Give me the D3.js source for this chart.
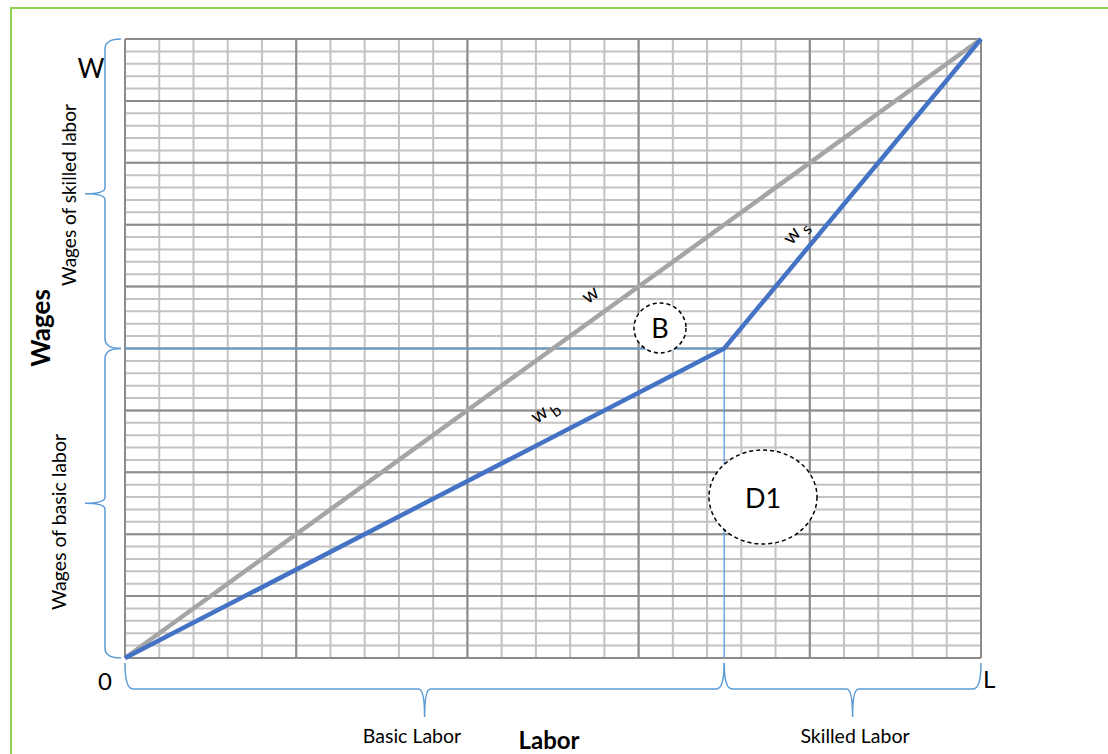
<!DOCTYPE html>
<html lang="en">
<head>
    <meta charset="UTF-8">
    <script src="https://d3js.org/d3.v7.min.js"></script>
    <title>Wages vs Labor</title>
    <style>
      body { margin: 0; background: #fff; }
      text { font-family: Lato, "Open Sans", sans-serif; fill: #000; }
    </style>
</head>
<body>
    <script>
    // data (share of total labor / total wages, in %)
    var laborShares = [0, 70, 100];     // 0, end of basic labor, L
    var wageShares = [0, 50, 100];      // 0, basic wages, W
    var totalLabor = [0, 100];
    var totalWage = [0, 100];
    var xMinorTicks = d3.range(0, 101, 4);
    var xMajorTicks = d3.range(0, 101, 20);
    var yMinorTicks = d3.range(0, 101, 2);
    var yMajorTicks = d3.range(0, 101, 10);

    var width = 1108, height = 754;
    var svg = d3.select("body").append("svg")
        .attr("width", width)
        .attr("height", height);

    // green frame (only top and left visible)
    svg.append("rect")
        .attr("x", 11).attr("y", 8)
        .attr("width", 1300).attr("height", 900)
        .attr("fill", "none")
        .attr("stroke", "#92d050")
        .attr("stroke-width", 2);

    var x = d3.scaleLinear().domain([0, 100]).range([125, 981]);
    var y = d3.scaleLinear().domain([0, 100]).range([658, 39]);

    // grid
    var grid = svg.append("g");
    grid.selectAll(".vmin").data(xMinorTicks).enter().append("line")
        .attr("x1", d => x(d)).attr("x2", d => x(d))
        .attr("y1", y(0)).attr("y2", y(100))
        .attr("stroke", "#c3c3c3").attr("stroke-width", 2);
    grid.selectAll(".hmin").data(yMinorTicks).enter().append("line")
        .attr("y1", d => y(d)).attr("y2", d => y(d))
        .attr("x1", x(0)).attr("x2", x(100))
        .attr("stroke", "#c3c3c3").attr("stroke-width", 2);
    grid.selectAll(".vmaj").data(xMajorTicks).enter().append("line")
        .attr("x1", d => x(d)).attr("x2", d => x(d))
        .attr("y1", y(0)).attr("y2", y(100))
        .attr("stroke", "#8c8c8c").attr("stroke-width", 2);
    grid.selectAll(".hmaj").data(yMajorTicks).enter().append("line")
        .attr("y1", d => y(d)).attr("y2", d => y(d))
        .attr("x1", x(0)).attr("x2", x(100))
        .attr("stroke", "#8c8c8c").attr("stroke-width", 2);

    // blue guide lines at the kink
    svg.append("path")
        .attr("d", d3.line()([[x(0), y(wageShares[1])], [x(laborShares[1]), y(wageShares[1])], [x(laborShares[1]), y(0)]]))
        .attr("fill", "none").attr("stroke", "#5b9bd5").attr("stroke-width", 1.3);

    var line = d3.line().x(d => x(d[0])).y(d => y(d[1]));

    // total wage line
    svg.append("path")
        .attr("d", line(totalLabor.map((v, i) => [v, totalWage[i]])))
        .attr("fill", "none").attr("stroke", "#a5a5a5").attr("stroke-width", 4.5);

    // wb / ws line
    svg.append("path")
        .attr("d", line(laborShares.map((v, i) => [v, wageShares[i]])))
        .attr("fill", "none").attr("stroke", "#4472c4").attr("stroke-width", 4.5)
        .attr("stroke-linejoin", "miter");

    // braces
    function vBrace(xb, y1, y2) {
        var ym = (y1 + y2) / 2;
        return "M" + (xb + 16) + "," + y1 +
            " Q" + xb + "," + y1 + " " + xb + "," + (y1 + 10) +
            " L" + xb + "," + (ym - 6) +
            " Q" + xb + "," + ym + " " + (xb - 20) + "," + ym +
            " Q" + xb + "," + ym + " " + xb + "," + (ym + 6) +
            " L" + xb + "," + (y2 - 10) +
            " Q" + xb + "," + y2 + " " + (xb + 16) + "," + y2;
    }
    function hBrace(yb, x1, x2) {
        var xm = (x1 + x2) / 2;
        return "M" + x1 + "," + (yb - 26) +
            " Q" + x1 + "," + yb + " " + (x1 + 8) + "," + yb +
            " L" + (xm - 6) + "," + yb +
            " Q" + xm + "," + yb + " " + xm + "," + (yb + 28) +
            " Q" + xm + "," + yb + " " + (xm + 6) + "," + yb +
            " L" + (x2 - 8) + "," + yb +
            " Q" + x2 + "," + yb + " " + x2 + "," + (yb - 26);
    }
    var braces = svg.append("g").attr("fill", "none").attr("stroke", "#5b9bd5").attr("stroke-width", 1.5);
    braces.append("path").attr("d", vBrace(105, y(100), y(wageShares[1])));
    braces.append("path").attr("d", vBrace(105, y(wageShares[1]), y(0)));
    braces.append("path").attr("d", hBrace(689, x(0), x(laborShares[1])));
    braces.append("path").attr("d", hBrace(689, x(laborShares[1]), x(100)));

    // circles
    svg.append("ellipse")
        .attr("cx", 660).attr("cy", 328).attr("rx", 26).attr("ry", 25)
        .attr("fill", "#fff").attr("stroke", "#000").attr("stroke-width", 1.5)
        .attr("stroke-dasharray", "4,3");
    svg.append("text").attr("x", 660).attr("y", 338)
        .attr("text-anchor", "middle").attr("font-size", 27).text("B");
    svg.append("ellipse")
        .attr("cx", 763).attr("cy", 497).attr("rx", 54).attr("ry", 47)
        .attr("fill", "#fff").attr("stroke", "#000").attr("stroke-width", 1.5)
        .attr("stroke-dasharray", "4,3");
    svg.append("text").attr("x", 763).attr("y", 508)
        .attr("text-anchor", "middle").attr("font-size", 27).text("D1");

    // line labels
    svg.append("text").attr("transform", "translate(594,300) rotate(-36)")
        .attr("text-anchor", "middle").attr("font-size", 20).text("w");
    var wb = svg.append("text").attr("transform", "translate(548,416) rotate(-36)")
        .attr("text-anchor", "middle").attr("font-size", 20);
    wb.append("tspan").text("w");
    wb.append("tspan").attr("dx", 3).attr("dy", 6).attr("font-size", 16).text("b");
    var ws = svg.append("text").attr("transform", "translate(800,236) rotate(-50)")
        .attr("text-anchor", "middle").attr("font-size", 20);
    ws.append("tspan").text("w");
    ws.append("tspan").attr("dx", 3).attr("dy", 6).attr("font-size", 16).text("s");

    // axis end labels
    svg.append("text").attr("x", 91).attr("y", 78).attr("text-anchor", "middle").attr("font-size", 26).text("W");
    svg.append("text").attr("x", 105).attr("y", 690).attr("text-anchor", "middle").attr("font-size", 24).text("0");
    svg.append("text").attr("x", 983).attr("y", 688).attr("font-size", 24).text("L");

    // axis titles
    svg.append("text").attr("x", 412).attr("y", 743).attr("text-anchor", "middle").attr("font-size", 19.5).text("Basic Labor");
    svg.append("text").attr("x", 855).attr("y", 743).attr("text-anchor", "middle").attr("font-size", 19.5).text("Skilled Labor");
    svg.append("text").attr("x", 549).attr("y", 749).attr("text-anchor", "middle").attr("font-size", 24)
        .attr("font-weight", "bold").text("Labor");
    svg.append("text").attr("transform", "translate(50,328) rotate(-90)").attr("text-anchor", "middle")
        .attr("font-size", 26).attr("font-weight", "bold").text("Wages");
    svg.append("text").attr("transform", "translate(76,195) rotate(-90)").attr("text-anchor", "middle")
        .attr("font-size", 19).text("Wages of skilled labor");
    svg.append("text").attr("transform", "translate(66,522) rotate(-90)").attr("text-anchor", "middle")
        .attr("font-size", 19.5).text("Wages of basic labor");
    </script>
</body>
</html>
